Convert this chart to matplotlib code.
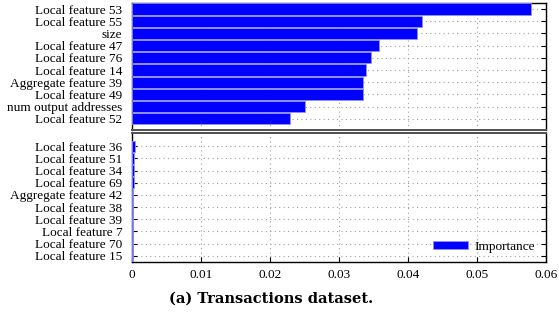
import matplotlib
matplotlib.use("Agg")
import matplotlib.pyplot as plt
import numpy as np

# Top-10 and bottom-10 feature importances
top_features = ["Local feature 53", "Local feature 55", "size", "Local feature 47",
                "Local feature 76", "Local feature 14", "Aggregate feature 39",
                "Local feature 49", "num output addresses", "Local feature 52"]
top_values = [0.0578, 0.0420, 0.0413, 0.0358, 0.0347, 0.0339, 0.0335, 0.0334, 0.0251, 0.0229]

bottom_features = ["Local feature 36", "Local feature 51", "Local feature 34",
                   "Local feature 69", "Aggregate feature 42", "Local feature 38",
                   "Local feature 39", "Local feature 7", "Local feature 70",
                   "Local feature 15"]
bottom_values = [0.0004, 0.0003, 0.0003, 0.0003, 0.0002, 0.0002, 0.0002, 0.0002, 0.0001, 0.0001]

x_ticks = [0, 0.01, 0.02, 0.03, 0.04, 0.05, 0.06]
x_tick_labels = ["0", "0.01", "0.02", "0.03", "0.04", "0.05", "0.06"]

plt.rcParams["font.family"] = ["Liberation Serif", "DejaVu Serif"]
BLUE = "#0000ff"
GRID = "#a0a0a0"

fig = plt.figure(figsize=(5.59, 3.23), dpi=100)
ax_top = fig.add_axes([0.236, 0.598, 0.741, 0.393])
ax_bot = fig.add_axes([0.236, 0.189, 0.741, 0.399])


def style(ax, labels, values, ylim):
    pos = np.arange(len(labels))
    ax.barh(pos, values, height=0.92, color=BLUE, edgecolor="#9090ff",
            linewidth=0.6, label="Importance", zorder=3)
    ax.set_ylim(*ylim)
    ax.set_xlim(0, 0.06)
    ax.set_yticks(pos)
    ax.set_yticklabels(labels, fontsize=9.5)
    ax.set_xticks(x_ticks)
    ax.tick_params(axis="both", direction="in", length=3.5, width=0.8,
                   right=True, top=False)
    ax.tick_params(axis="y", pad=7)
    ax.grid(True, linestyle=(0, (1, 3)), color=GRID, linewidth=0.8, zorder=0)
    for s in ax.spines.values():
        s.set_linewidth(1.0)


style(ax_top, top_features, top_values, (9.9, -0.5))
style(ax_bot, bottom_features, bottom_values, (9.5, -1.07))

# broken-axis seam
ax_top.spines["bottom"].set_color("#505050")
ax_top.spines["bottom"].set_linewidth(1.4)
ax_bot.spines["top"].set_color("#505050")
ax_bot.spines["top"].set_linewidth(1.4)
ax_top.tick_params(axis="x", labelbottom=False, length=0)

ax_bot.set_xticklabels(x_tick_labels, fontsize=9.5)
ax_bot.tick_params(axis="x", pad=5)

leg = ax_bot.legend(loc="lower right", bbox_to_anchor=(0.995, 0.0), frameon=False,
                    fontsize=9.5, handlelength=2.6, handleheight=0.55,
                    borderaxespad=0.3, handletextpad=0.5)

fig.text(0.485, 0.075, "(a) Transactions dataset.", ha="center", va="center",
         fontsize=10.5, fontweight="bold", family=["DejaVu Serif"])

fig.savefig("out.png", dpi=100)
